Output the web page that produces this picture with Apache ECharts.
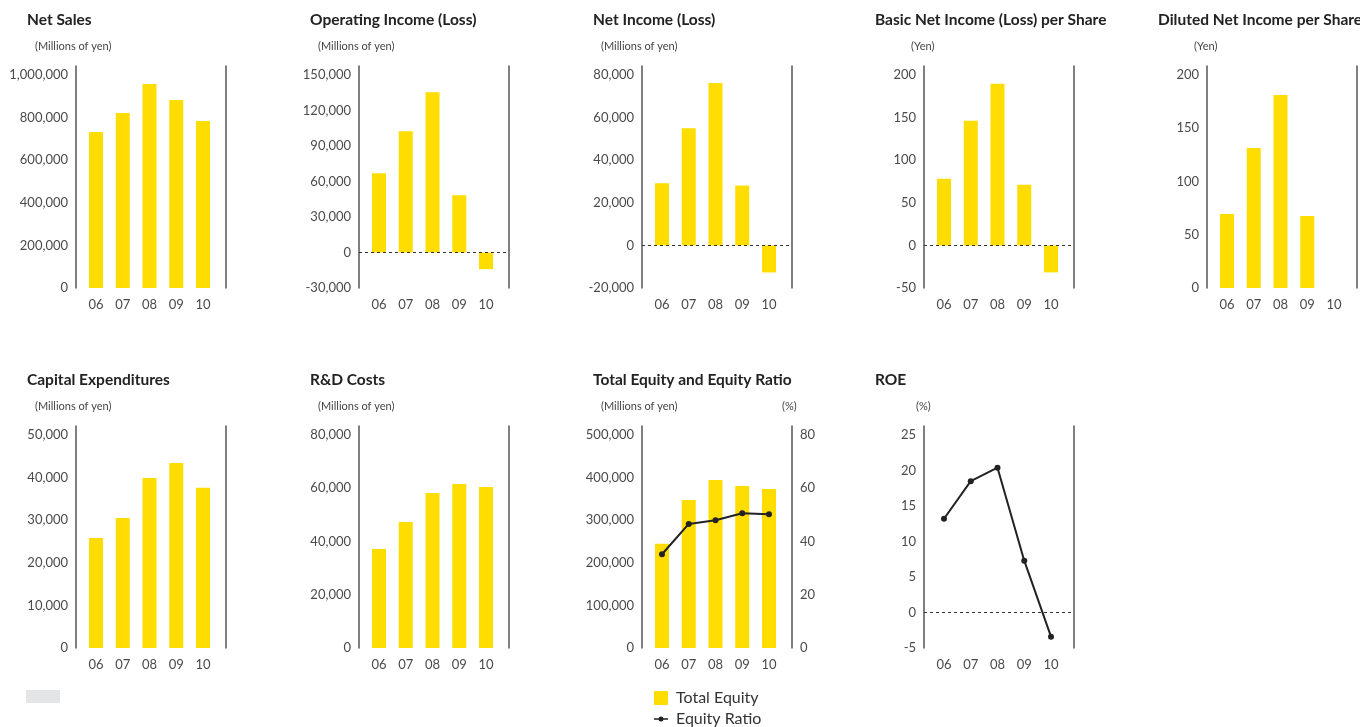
<!DOCTYPE html>
<html>
<head>
<meta charset="utf-8">
<script src="https://cdn.jsdelivr.net/npm/echarts@6/dist/echarts.min.js"></script>
<style>
html,body{margin:0;padding:0;background:#fff;}
#main{width:1360px;height:727px;}
</style>
</head>
<body>
<div id="main"></div>
<script>
// fiscal years
const years = ['06', '07', '08', '09', '10'];

// values
const netSales        = [732000, 822000, 958000, 883000, 784000];
const operatingIncome = [67000, 102500, 135400, 48400, -14100];
const netIncome       = [29200, 55000, 76200, 28100, -12700];
const basicEps        = [78.2, 146.3, 189.8, 71.2, -31.7];
const dilutedEps      = [69.5, 131.5, 181.2, 67.6, null];
const capex           = [25800, 30500, 39900, 43400, 37600];
const rdCosts         = [37200, 47300, 58200, 61600, 60500];
const totalEquity     = [244800, 347400, 394300, 380200, 373200];
const equityRatio     = [35.2, 46.6, 48.0, 50.6, 50.2];
const roe             = [13.2, 18.5, 20.4, 7.3, -3.4];

// axis ticks: [min, max, step]
const netSalesTicks  = [0, 1000000, 200000];
const opIncomeTicks  = [-30000, 150000, 30000];
const netIncomeTicks = [-20000, 80000, 20000];
const basicEpsTicks  = [-50, 200, 50];
const dilutedTicks   = [0, 200, 50];
const capexTicks     = [0, 50000, 10000];
const rdTicks        = [0, 80000, 20000];
const equityTicks    = [0, 500000, 100000];
const ratioTicks     = [0, 80, 20];
const roeTicks       = [-5, 25, 5];

const YELLOW = '#FFDD00';
const FONT = 'Lato';
const colLeft = [76, 359, 642, 924, 1207];
const rowTop = [66, 426];
const PLOT_W = 150, PLOT_H = 222, HEAD = 9;
const BAR_OFF = 20, BAR_STEP = 26.75;

const panels = [
  {title: 'Net Sales', unit: '(Millions of yen)', unitDx: -41, col: 0, row: 0, bars: netSales, ticks: netSalesTicks},
  {title: 'Operating Income (Loss)', unit: '(Millions of yen)', unitDx: -41, col: 1, row: 0, bars: operatingIncome, ticks: opIncomeTicks},
  {title: 'Net Income (Loss)', unit: '(Millions of yen)', unitDx: -41, col: 2, row: 0, bars: netIncome, ticks: netIncomeTicks},
  {title: 'Basic Net Income (Loss) per Share', unit: '(Yen)', unitDx: -13, col: 3, row: 0, bars: basicEps, ticks: basicEpsTicks},
  {title: 'Diluted Net Income per Share', unit: '(Yen)', unitDx: -13, col: 4, row: 0, bars: dilutedEps, ticks: dilutedTicks},
  {title: 'Capital Expenditures', unit: '(Millions of yen)', unitDx: -41, col: 0, row: 1, bars: capex, ticks: capexTicks},
  {title: 'R&D Costs', unit: '(Millions of yen)', unitDx: -41, col: 1, row: 1, bars: rdCosts, ticks: rdTicks},
  {title: 'Total Equity and Equity Ratio', unit: '(Millions of yen)', unitDx: -41, col: 2, row: 1, bars: totalEquity, ticks: equityTicks,
    line: equityRatio, rightTicks: ratioTicks, barName: 'Total Equity', lineName: 'Equity Ratio'},
  {title: 'ROE', unit: '(%)', unitDx: -8, col: 3, row: 1, line: roe, ticks: roeTicks}
];

function extMax(t) {
  return t[1] + (t[1] - t[0]) * HEAD / (PLOT_H - HEAD);
}
function fmt(v) {
  return v.toLocaleString('en-US');
}
const labelStyle = {fontFamily: FONT, fontSize: 13, color: '#4a4a4a'};
const zeroLine = {
  silent: true, symbol: 'none',
  label: {show: false},
  lineStyle: {color: '#333', type: [3, 3], width: 1},
  data: [{yAxis: 0}]
};

let grid = [], xAxis = [], yAxis = [], series = [], title = [];

panels.forEach((p, i) => {
  const L = colLeft[p.col], T = rowTop[p.row];
  grid.push({left: L, top: T, width: PLOT_W, height: PLOT_H});
  title.push({text: p.title, left: L - 49, top: T - 54, padding: 0,
    textStyle: {fontFamily: FONT, fontSize: 15.5, fontWeight: 'bold', color: '#222'}});
  title.push({text: p.unit, left: L + p.unitDx, top: T - 25, padding: 0,
    textStyle: {fontFamily: FONT, fontSize: 11, fontWeight: 'normal', color: '#444'}});

  xAxis.push({
    gridIndex: i, type: 'value',
    min: -BAR_OFF / BAR_STEP, max: (PLOT_W - BAR_OFF) / BAR_STEP,
    minInterval: 1, maxInterval: 1,
    axisLine: {show: false}, axisTick: {show: false}, splitLine: {show: false},
    axisLabel: Object.assign({
      margin: 10, showMinLabel: false, showMaxLabel: false,
      formatter: v => {
        const k = Math.round(v);
        return Math.abs(v - k) < 1e-6 && years[k] !== undefined ? years[k] : '';
      }
    }, labelStyle)
  });

  const t = p.ticks;
  yAxis.push({
    gridIndex: i, type: 'value', position: 'left',
    min: t[0], max: extMax(t), interval: t[2],
    axisLine: {show: true, onZero: false, lineStyle: {color: '#555', width: 1.5}},
    axisTick: {show: false}, splitLine: {show: false},
    axisLabel: Object.assign({
      margin: 8,
      formatter: v => v > t[1] + 1e-9 ? '' : fmt(v)
    }, labelStyle)
  });
  const rt = p.rightTicks || t;
  yAxis.push({
    gridIndex: i, type: 'value', position: 'right',
    min: rt[0], max: extMax(rt), interval: rt[2],
    axisLine: {show: true, onZero: false, lineStyle: {color: '#555', width: 1.5}},
    axisTick: {show: false}, splitLine: {show: false},
    axisLabel: Object.assign({
      show: !!p.rightTicks, margin: 8,
      formatter: v => v > rt[1] + 1e-9 ? '' : fmt(v)
    }, labelStyle)
  });

  if (p.bars) {
    const s = {
      name: p.barName || p.title,
      type: 'bar', xAxisIndex: i, yAxisIndex: 2 * i,
      data: p.bars.map((v, k) => [k, v]),
      barWidth: 14,
      itemStyle: {color: YELLOW},
      silent: true
    };
    if (t[0] < 0) s.markLine = zeroLine;
    series.push(s);
  }
  if (p.line) {
    const s = {
      name: p.lineName || p.title,
      type: 'line', xAxisIndex: i, yAxisIndex: p.rightTicks ? 2 * i + 1 : 2 * i,
      data: p.line.map((v, k) => [k, v]),
      symbol: 'circle', symbolSize: 6,
      lineStyle: {color: '#222', width: 2},
      itemStyle: {color: '#222'},
      z: 5
    };
    if (!p.bars && t[0] < 0) s.markLine = zeroLine;
    series.push(s);
  }
});

// right-hand unit of the equity panel
title.push({text: '(%)', left: colLeft[2] + 140, top: rowTop[1] - 25, padding: 0,
  textStyle: {fontFamily: FONT, fontSize: 11, fontWeight: 'normal', color: '#444'}});

const chart = echarts.init(document.getElementById('main'));
chart.setOption({
  animation: false,
  backgroundColor: '#fff',
  title: title,
  grid: grid,
  xAxis: xAxis,
  yAxis: yAxis,
  series: series,
  legend: {
    orient: 'vertical', left: 654, top: 690, padding: 0,
    itemWidth: 14, itemHeight: 14, itemGap: 5,
    data: [
      {name: 'Total Equity', icon: 'rect'},
      {name: 'Equity Ratio', icon: 'path://M0,6.2h14v1.6H0z M7,4.5a2.5,2.5 0 1 1 0,5a2.5,2.5 0 1 1 0,-5z'}
    ],
    textStyle: {fontFamily: FONT, fontSize: 16, color: '#333', padding: [0, 0, 0, 3]}
  },
  graphic: [{
    type: 'rect', left: 26, top: 690,
    shape: {width: 34, height: 13},
    style: {fill: '#e4e5e6'}
  }]
});
</script>
</body>
</html>
